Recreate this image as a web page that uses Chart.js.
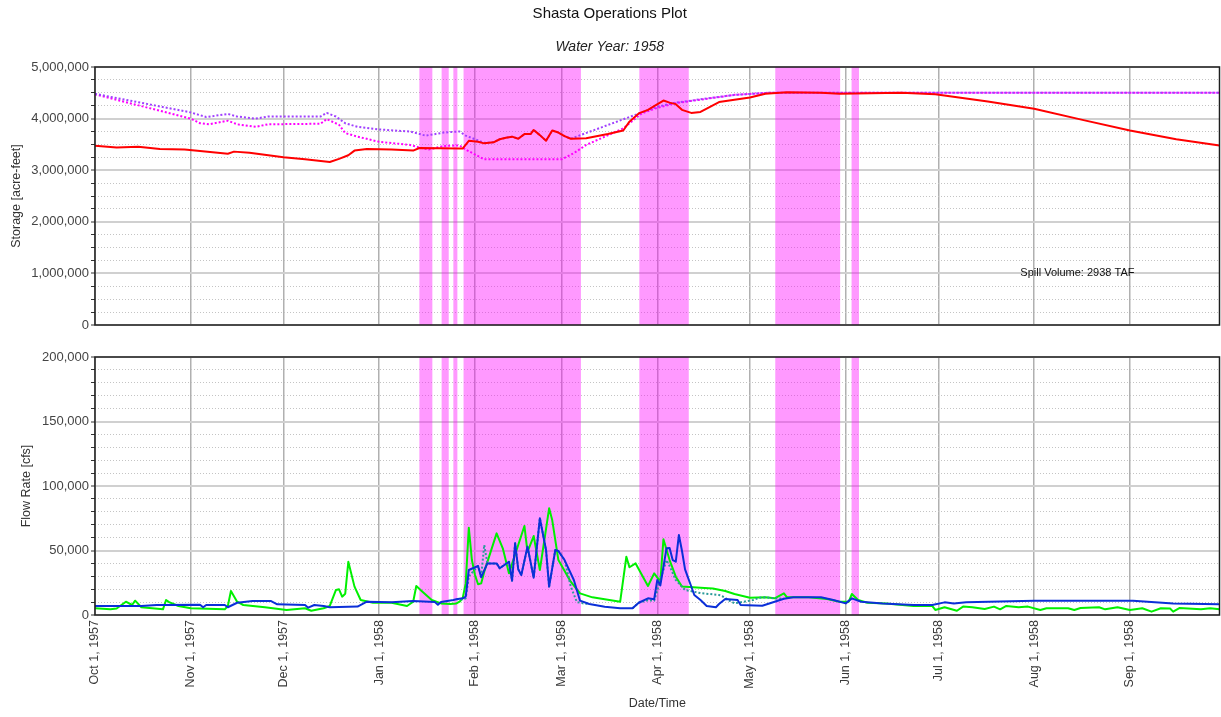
<!DOCTYPE html>
<html>
<head>
<meta charset="utf-8">
<title>Shasta Operations Plot</title>
<script src="https://cdn.jsdelivr.net/npm/chart.js@4.4.1/dist/chart.umd.min.js"></script>
<style>
  html, body { margin: 0; padding: 0; background: #ffffff; }
  #wrap { position: relative; width: 1221px; height: 717px; overflow: hidden; }
  canvas { position: absolute; left: 0; }
  #storageCanvas { top: 0; }
  #flowCanvas { top: 340px; }
</style>
</head>
<body>
<div id="wrap">
  <canvas id="storageCanvas" width="1221" height="340"></canvas>
  <canvas id="flowCanvas" width="1221" height="377"></canvas>
</div>
<script>
// Day numbers count from Oct 1, 1957 (day 0) to Sep 30, 1958 (day 364).
const monthStartDays = [0, 31, 61, 92, 123, 151, 182, 212, 243, 273, 304, 335];
const monthLabels = ['Oct 1, 1957', 'Nov 1, 1957', 'Dec 1, 1957', 'Jan 1, 1958', 'Feb 1, 1958', 'Mar 1, 1958',
                     'Apr 1, 1958', 'May 1, 1958', 'Jun 1, 1958', 'Jul 1, 1958', 'Aug 1, 1958', 'Sep 1, 1958'];

const storageMajorTicks = [0, 1000000, 2000000, 3000000, 4000000, 5000000];
const storageTickLabels = ['0', '1,000,000', '2,000,000', '3,000,000', '4,000,000', '5,000,000'];
const flowMajorTicks = [0, 50000, 100000, 150000, 200000];
const flowTickLabels = ['0', '50,000', '100,000', '150,000', '200,000'];

// Spill periods (start / end day)
const spillStartDays = [105.0, 112.2, 116.0, 119.3, 176.2, 220.2, 244.9];
const spillEndDays   = [109.2, 114.5, 117.3, 157.3, 192.2, 241.2, 247.3];
const spillLabel = 'Spill Volume: 2938 TAF';

// Reservoir storage [acre-feet]
const storageDays = [0, 7, 14, 21, 29, 34, 43, 45, 50, 61, 68, 76, 79, 82, 84, 88, 96, 103, 105, 118, 119, 121, 124,
  126, 129, 131, 133, 135, 137, 139, 141, 142, 144, 146, 148, 150, 152, 154, 159, 166, 171, 173, 176, 179, 181, 184,
  186, 188, 190, 193, 196, 202, 212, 217, 224, 235, 241, 261, 272, 289, 304, 320, 335, 350, 364];
const storageValues = [3475000, 3440000, 3456000, 3410000, 3400000, 3370000, 3320000, 3360000, 3340000, 3250000,
  3210000, 3160000, 3220000, 3290000, 3380000, 3410000, 3400000, 3380000, 3430000, 3420000, 3420000, 3570000,
  3550000, 3520000, 3540000, 3600000, 3630000, 3650000, 3610000, 3700000, 3700000, 3780000, 3680000, 3570000,
  3770000, 3730000, 3660000, 3610000, 3620000, 3700000, 3770000, 3940000, 4100000, 4170000, 4240000, 4350000,
  4310000, 4280000, 4170000, 4110000, 4130000, 4320000, 4410000, 4480000, 4510000, 4500000, 4480000, 4500000,
  4470000, 4330000, 4190000, 3970000, 3770000, 3600000, 3480000];

// Upper storage guide curve [acre-feet]
const upperDays = [0, 31, 36, 43, 46, 52, 56, 73, 75, 78, 81, 85, 92, 99, 102, 107, 113, 118, 120, 126, 129, 131,
  133, 135, 137, 139, 141, 142, 144, 146, 148, 150, 152, 154, 182, 188, 207, 218, 364];
const upperValues = [4480000, 4120000, 4030000, 4090000, 4040000, 4000000, 4040000, 4040000, 4110000, 4040000,
  3910000, 3840000, 3790000, 3760000, 3750000, 3670000, 3730000, 3750000, 3670000, 3530000, 3540000, 3600000,
  3630000, 3650000, 3610000, 3700000, 3700000, 3780000, 3680000, 3570000, 3770000, 3730000, 3660000, 3610000,
  4230000, 4310000, 4460000, 4500000, 4500000];

// Lower storage guide curve [acre-feet]
const lowerDays = [0, 31, 34, 37, 43, 46, 52, 56, 73, 75, 79, 81, 85, 92, 102, 105, 108, 113, 118, 120, 126, 151,
  155, 159, 168, 171, 177, 182, 188, 207, 218, 364];
const lowerValues = [4470000, 4000000, 3910000, 3890000, 3960000, 3890000, 3840000, 3890000, 3900000, 3990000,
  3880000, 3720000, 3650000, 3550000, 3490000, 3440000, 3400000, 3470000, 3480000, 3400000, 3210000, 3210000,
  3330000, 3490000, 3730000, 3810000, 4100000, 4210000, 4300000, 4460000, 4500000, 4500000];

// Inflow [cfs]
const inflowDays = [0, 5, 7, 10, 12, 13, 15, 22, 23, 24, 27, 31, 42, 43, 44, 46, 48, 55, 62, 68, 70, 74, 76, 78, 79,
  80, 81, 82, 84, 86, 90, 96, 101, 103, 104, 106, 109, 112, 115, 117, 118, 119, 120, 121, 122, 123, 124, 125, 126,
  130, 132, 134, 139, 140, 142, 144, 147, 148, 150, 154, 157, 161, 170, 172, 173, 175, 179, 181, 183, 184, 186, 188,
  190, 196, 200, 204, 207, 212, 217, 220, 223, 224, 231, 237, 241, 244, 245, 247, 250, 256, 265, 271, 272, 275, 279,
  281, 284, 288, 291, 293, 295, 299, 302, 306, 308, 315, 317, 319, 325, 327, 331, 335, 339, 342, 345, 348, 349, 351,
  358, 361, 364];
const inflowValues = [5200, 4400, 5000, 10300, 7750, 11100, 6000, 4400, 11600, 10000, 7000, 5200, 4400, 7000, 18600,
  10300, 7750, 6000, 3900, 5200, 3300, 5200, 7000, 19400, 19900, 14200, 16500, 41300, 22000, 11600, 9500, 9500, 7000,
  10300, 22500, 18100, 11600, 9000, 8500, 9000, 10300, 12900, 24500, 67700, 42600, 31000, 23800, 24500, 33600,
  63300, 51700, 32300, 69000, 49000, 61200, 34900, 82700, 73600, 42600, 25800, 16800, 13700, 10300, 45200, 37000,
  40000, 22500, 32300, 25800, 58700, 42600, 29700, 22000, 21200, 20600, 18600, 16300, 13400, 13700, 12900, 16800,
  13700, 13700, 12400, 10300, 10300, 16300, 11600, 9500, 9000, 7000, 7000, 3900, 6000, 3300, 6500, 6000, 4600, 6500,
  4400, 7000, 6000, 6500, 3900, 5200, 5200, 3900, 5400, 6000, 4400, 6000, 3900, 5200, 2600, 5200, 5000, 2600, 5400,
  4400, 5200, 4400];

// Outflow [cfs]
const outflowDays = [0, 15, 20, 34, 35, 36, 42, 43, 46, 51, 57, 59, 68, 69, 71, 74, 76, 85, 88, 96, 103, 110, 111,
  112, 116, 117, 119, 120, 121, 124, 125, 127, 130, 131, 134, 135, 136, 137, 138, 140, 142, 144, 146, 147, 149, 150,
  152, 155, 157, 160, 165, 170, 174, 176, 179, 181, 182, 183, 185, 186, 187, 188, 189, 190, 191, 194, 196, 198, 201,
  202, 204, 208, 209, 216, 223, 226, 235, 239, 243, 245, 248, 255, 265, 271, 275, 278, 282, 304, 336, 349, 364];
const outflowValues = [7000, 7000, 7750, 8000, 6000, 7750, 7750, 6000, 9500, 10800, 10800, 8300, 7750, 5700, 7750,
  7000, 6000, 6500, 10300, 9800, 10800, 10000, 8000, 10000, 11600, 12200, 12900, 14200, 34900, 38000, 29200, 40000,
  40000, 36200, 41300, 26600, 55600, 35400, 31000, 53000, 28900, 75000, 50400, 22000, 50400, 49600, 42600, 27100,
  11100, 8500, 6400, 5200, 5200, 9500, 12900, 12200, 27100, 23000, 51700, 52000, 42600, 41300, 62000, 49800, 35400,
  15500, 11600, 7000, 6000, 8500, 12400, 11600, 7750, 7200, 12600, 13700, 13700, 11600, 9000, 12900, 10300, 9000,
  7750, 7750, 9800, 9000, 9800, 11100, 11100, 9000, 8300];

// Release target [cfs]; null separates the two periods it is shown for
const targetDays = [117, 119, 120, 121, 124, 125, 126, 127, 130, 131, 134, 135, 136, 137, 138, 140, 142, 144, 146,
  147, 149, 150, 152, 154, 156, 158, 160, 167, 174, 176, 179, 181, 183, 185, 186, 188, 191, 196, 202, 203, 205, 207,
  213, 215, 217, 220, 223];
const targetValues = [12200, 12000, 13000, 30000, 38000, 30000, 54300, 40000, 40000, 36200, 41300, 26600, 55600,
  35400, 31000, 53000, 28900, 75000, 50400, 22000, 50400, 49600, 42600, 22000, 10000, 9000, 8500, null, 5200, 9500,
  11500, 11000, 27100, 42600, 38000, 27100, 19400, 17000, 15500, 14700, 11600, 9000, 11600, 13400, 13700, 12900,
  12600];

const FONT = "'Liberation Sans', Arial, Helvetica, sans-serif";
Chart.defaults.font.family = FONT;
Chart.defaults.color = '#444';

function toPoints(days, values) {
  return days.map((d, i) => ({ x: d, y: values[i] }));
}

function seriesStyle(color, dashed) {
  return {
    borderColor: color,
    backgroundColor: color,
    borderWidth: 2,
    borderDash: dashed ? [2, 2] : [],
    borderJoinStyle: 'round',
    pointRadius: 0,
    tension: 0,
    fill: false,
    spanGaps: false
  };
}

// Shaded spill periods, drawn over the grid and under the series
const spillBands = {
  id: 'spillBands',
  beforeDatasetsDraw(chart) {
    const { ctx, chartArea: a, scales: { x } } = chart;
    ctx.save();
    ctx.fillStyle = 'rgba(255, 0, 255, 0.4)';
    spillStartDays.forEach((start, i) => {
      const x0 = x.getPixelForValue(start);
      const x1 = x.getPixelForValue(spillEndDays[i]);
      ctx.fillRect(x0, a.top, x1 - x0, a.bottom - a.top);
    });
    ctx.restore();
  }
};

// Dark frame around each plotting area
const plotFrame = {
  id: 'plotFrame',
  afterDraw(chart) {
    const { ctx, chartArea: a } = chart;
    ctx.save();
    ctx.strokeStyle = '#1e1e1e';
    ctx.lineWidth = 1.5;
    ctx.strokeRect(a.left, a.top, a.right - a.left, a.bottom - a.top);
    ctx.restore();
  }
};

// Spill volume note on the storage panel
const spillNote = {
  id: 'spillNote',
  afterDatasetsDraw(chart) {
    const { ctx, scales: { x, y } } = chart;
    ctx.save();
    ctx.font = '11px ' + FONT;
    ctx.fillStyle = '#111111';
    ctx.textAlign = 'center';
    ctx.textBaseline = 'middle';
    ctx.fillText(spillLabel, x.getPixelForValue(318), y.getPixelForValue(1000000));
    ctx.restore();
  }
};

function monthAxis(showLabels, fitHeight) {
  return {
    type: 'linear',
    min: 0,
    max: 364,
    afterBuildTicks: s => { s.ticks = monthStartDays.map(v => ({ value: v })); },
    afterFit: s => { s.height = fitHeight; },
    ticks: {
      display: showLabels,
      autoSkip: false,
      minRotation: 90,
      maxRotation: 90,
      padding: 5,
      color: '#3a3a3a',
      font: { size: 12.5 },
      callback: v => monthLabels[monthStartDays.indexOf(v)]
    },
    grid: { color: '#b0b0b0', lineWidth: 1.5, drawTicks: false },
    border: { display: false },
    title: {
      display: showLabels,
      text: 'Date/Time',
      color: '#333',
      font: { size: 12.5 },
      padding: { top: 0, bottom: 5.5 }
    }
  };
}

function valueAxis(max, minorStep, majorTicks, majorLabels, titleText, titlePad) {
  const isMajor = c => c.tick && majorTicks.includes(c.tick.value);
  return {
    type: 'linear',
    min: 0,
    max: max,
    afterBuildTicks: s => {
      const t = [];
      for (let v = 0; v <= max; v += minorStep) t.push({ value: v });
      s.ticks = t;
    },
    afterFit: s => { s.width = 95; },
    ticks: {
      autoSkip: false,
      padding: 2,
      color: '#444',
      font: { size: 13 },
      callback: v => {
        const i = majorTicks.indexOf(v);
        return i >= 0 ? majorLabels[i] : '';
      }
    },
    grid: {
      color: c => isMajor(c) ? '#d0d0d0' : '#c4c4c4',
      lineWidth: c => isMajor(c) ? 2 : 1,
      tickLength: 4,
      tickColor: '#333',
      tickWidth: 1
    },
    border: { display: false, dash: c => isMajor(c) ? [] : [1, 2] },
    title: {
      display: true,
      text: titleText,
      color: '#333',
      font: { size: 12.5 },
      padding: { top: titlePad, bottom: 0 }
    }
  };
}

const baseOptions = {
  responsive: false,
  animation: false,
  devicePixelRatio: 1,
  events: []
};

new Chart(document.getElementById('storageCanvas'), {
  type: 'line',
  data: {
    datasets: [
      Object.assign({ label: 'Storage', data: toPoints(storageDays, storageValues) }, seriesStyle('#ff0000', false)),
      Object.assign({ label: 'Upper guide', data: toPoints(upperDays, upperValues) }, seriesStyle('#a040ff', true)),
      Object.assign({ label: 'Lower guide', data: toPoints(lowerDays, lowerValues) }, seriesStyle('#ff00ff', true))
    ]
  },
  options: Object.assign({}, baseOptions, {
    layout: { padding: { left: 0, right: 1.5, top: 0, bottom: 15 } },
    plugins: {
      legend: { display: false },
      tooltip: { enabled: false },
      title: {
        display: true,
        text: 'Shasta Operations Plot',
        color: '#111',
        font: { size: 15, weight: 'normal' },
        padding: { top: 5, bottom: 0 }
      },
      subtitle: {
        display: true,
        text: 'Water Year: 1958',
        color: '#222',
        font: { size: 14, style: 'italic', weight: 'normal' },
        padding: { top: 15.6, bottom: 11.6 }
      }
    },
    scales: {
      x: monthAxis(false, 0),
      y: valueAxis(5000000, 250000, storageMajorTicks, storageTickLabels, 'Storage [acre-feet]', 9.2)
    }
  }),
  plugins: [spillBands, spillNote, plotFrame]
});

new Chart(document.getElementById('flowCanvas'), {
  type: 'line',
  data: {
    datasets: [
      Object.assign({ label: 'Outflow', data: toPoints(outflowDays, outflowValues) }, seriesStyle('#0b2fd8', false)),
      Object.assign({ label: 'Release target', data: toPoints(targetDays, targetValues) }, seriesStyle('#2a9a9a', true)),
      Object.assign({ label: 'Inflow', data: toPoints(inflowDays, inflowValues) }, seriesStyle('#00f000', false))
    ]
  },
  options: Object.assign({}, baseOptions, {
    layout: { padding: { left: 0, right: 1.5, top: 17, bottom: 0 } },
    plugins: {
      legend: { display: false },
      tooltip: { enabled: false }
    },
    scales: {
      x: monthAxis(true, 102),
      y: valueAxis(200000, 10000, flowMajorTicks, flowTickLabels, 'Flow Rate [cfs]', 19.5)
    }
  }),
  plugins: [spillBands, plotFrame]
});
</script>
</body>
</html>
